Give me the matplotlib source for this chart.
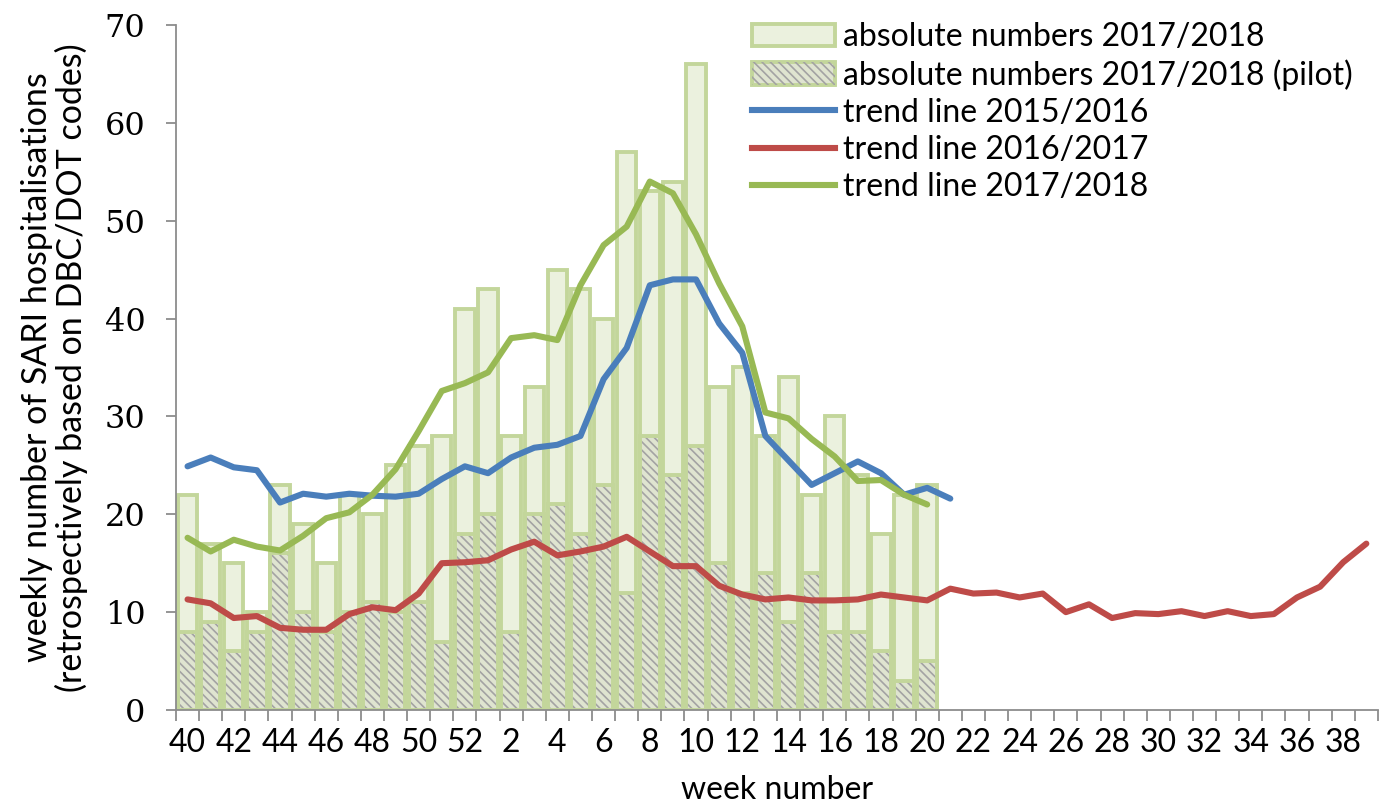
import matplotlib
matplotlib.use("Agg")
import matplotlib.pyplot as plt
from matplotlib.patches import Patch
from matplotlib.lines import Line2D

plt.rcParams["font.family"] = ["Lato", "DejaVu Sans"]
plt.rcParams["hatch.linewidth"] = 1.2

# week numbers, season runs from week 40 to week 39
weeks = list(range(40, 53)) + list(range(1, 40))

# absolute numbers 2017/2018 (weeks 40 .. 20)
abs_total = [22, 17, 15, 10, 23, 19, 15, 22, 20, 25, 27, 28, 41,
             43, 28, 33, 45, 43, 40, 57, 53, 54, 66, 33, 35, 28, 34,
             22, 30, 24, 18, 22, 23]
# absolute numbers 2017/2018, pilot hospitals
abs_pilot = [8, 9, 6, 8, 16, 10, 8, 10, 11, 10, 11, 7, 18,
             20, 8, 20, 21, 18, 23, 12, 28, 24, 27, 15, 12, 14, 9,
             14, 8, 8, 6, 3, 5]

# trend lines
trend_1516 = [24.9, 25.8, 24.8, 24.5, 21.2, 22.1, 21.8, 22.1, 21.9, 21.8,
              22.1, 23.6, 24.9, 24.2, 25.8, 26.8, 27.1, 28.0, 33.8, 37.0,
              43.4, 44.0, 44.0, 39.5, 36.5, 28.0, 25.5, 23.0, 24.2, 25.4,
              24.2, 22.0, 22.7, 21.6]
trend_1617 = [11.3, 10.9, 9.4, 9.6, 8.4, 8.2, 8.2, 9.8, 10.5, 10.2,
              11.9, 15.0, 15.1, 15.3, 16.4, 17.2, 15.8, 16.2, 16.7, 17.7,
              16.2, 14.7, 14.7, 12.7, 11.8, 11.3, 11.5, 11.2, 11.2, 11.3,
              11.8, 11.5, 11.2, 12.4, 11.9, 12.0, 11.5, 11.9, 10.0, 10.8,
              9.4, 9.9, 9.8, 10.1, 9.6, 10.1, 9.6, 9.8, 11.5, 12.6,
              15.1, 17.0]
trend_1718 = [17.6, 16.2, 17.4, 16.7, 16.3, 17.8, 19.6, 20.2, 22.0, 24.6,
              28.5, 32.6, 33.4, 34.5, 38.0, 38.3, 37.8, 43.4, 47.5, 49.4,
              54.0, 52.8, 48.6, 43.6, 39.2, 30.4, 29.8, 27.7, 25.9, 23.4,
              23.5, 22.0, 21.0]

bar_fc = "#ebf1de"
bar_ec = "#c3d69b"
pilot_fc = "#dfe4d0"
hatch_c = "#a3a3a3"
blue = "#4a7ebb"
red = "#be4b48"
green = "#98b954"

fig = plt.figure(figsize=(13.89, 8.05), dpi=100)
ax = fig.add_axes([0.1267, 0.118, 0.992 - 0.1267, 0.969 - 0.118])

xb = list(range(len(abs_total)))
w = 0.84
elw = 2.8
ax.bar(xb, abs_total, width=w, color=bar_fc, edgecolor=bar_ec, linewidth=elw, zorder=1)
ax.bar(xb, abs_pilot, width=w, color=pilot_fc, edgecolor=bar_ec, linewidth=0, zorder=2)
ax.bar(xb, abs_pilot, width=w, color="none", edgecolor=hatch_c, hatch="\\\\\\\\",
       linewidth=0, zorder=2.1)
ax.bar(xb, abs_pilot, width=w, color="none", edgecolor=bar_ec, linewidth=elw, zorder=2.2)

lw = 4.4
for series, col in [(trend_1516, blue), (trend_1617, red), (trend_1718, green)]:
    ax.plot(range(len(series)), series, color=col, lw=lw, zorder=4,
            solid_capstyle="round", solid_joinstyle="round")

ax.set_xlim(-0.5, len(weeks) - 0.5)
ax.set_ylim(0, 70)

spine_c = "#8c8c8c"
for s in ["top", "right"]:
    ax.spines[s].set_visible(False)
for s in ["left", "bottom"]:
    ax.spines[s].set_color(spine_c)
    ax.spines[s].set_linewidth(1.3)

ax.set_yticks(range(0, 71, 10))
ax.set_yticklabels([str(v) for v in range(0, 71, 10)], family="DejaVu Serif", fontsize=23)
ax.tick_params(axis="y", direction="out", length=7, width=1.3, color=spine_c, pad=15)

ax.set_xticks([i - 0.5 for i in range(len(weeks) + 1)], minor=True)
ax.set_xticks(range(0, len(weeks), 2))
ax.set_xticklabels([str(weeks[i]) for i in range(0, len(weeks), 2)], fontsize=23)
ax.tick_params(axis="x", which="major", length=0, pad=13)
ax.tick_params(axis="x", which="minor", direction="out", length=8, width=1.3, color=spine_c)

ax.set_xlabel("week number", fontsize=23, labelpad=12)
ax.set_ylabel("weekly number of SARI hospitalisations\n(retrospectively based on DBC/DOT codes)",
              fontsize=24.5, labelpad=12, linespacing=1.05)

handles = [
    Patch(facecolor=bar_fc, edgecolor=bar_ec, linewidth=elw),
    (Patch(facecolor=pilot_fc, edgecolor=bar_ec, linewidth=elw),
     Patch(facecolor="none", edgecolor=hatch_c, hatch="\\\\\\\\", linewidth=0)),
    Line2D([], [], color=blue, lw=lw),
    Line2D([], [], color=red, lw=lw),
    Line2D([], [], color=green, lw=lw),
]
labels = ["absolute numbers 2017/2018", "absolute numbers 2017/2018 (pilot)",
          "trend line 2015/2016", "trend line 2016/2017", "trend line 2017/2018"]
fig.legend(handles, labels, loc="upper left", bbox_to_anchor=(752 / 1389, 1 - 22 / 805),
           frameon=False, fontsize=23, handlelength=2.6, handleheight=0.7,
           handletextpad=0.25, labelspacing=0.22, borderpad=0, borderaxespad=0)

fig.savefig("out.png", dpi=100)
